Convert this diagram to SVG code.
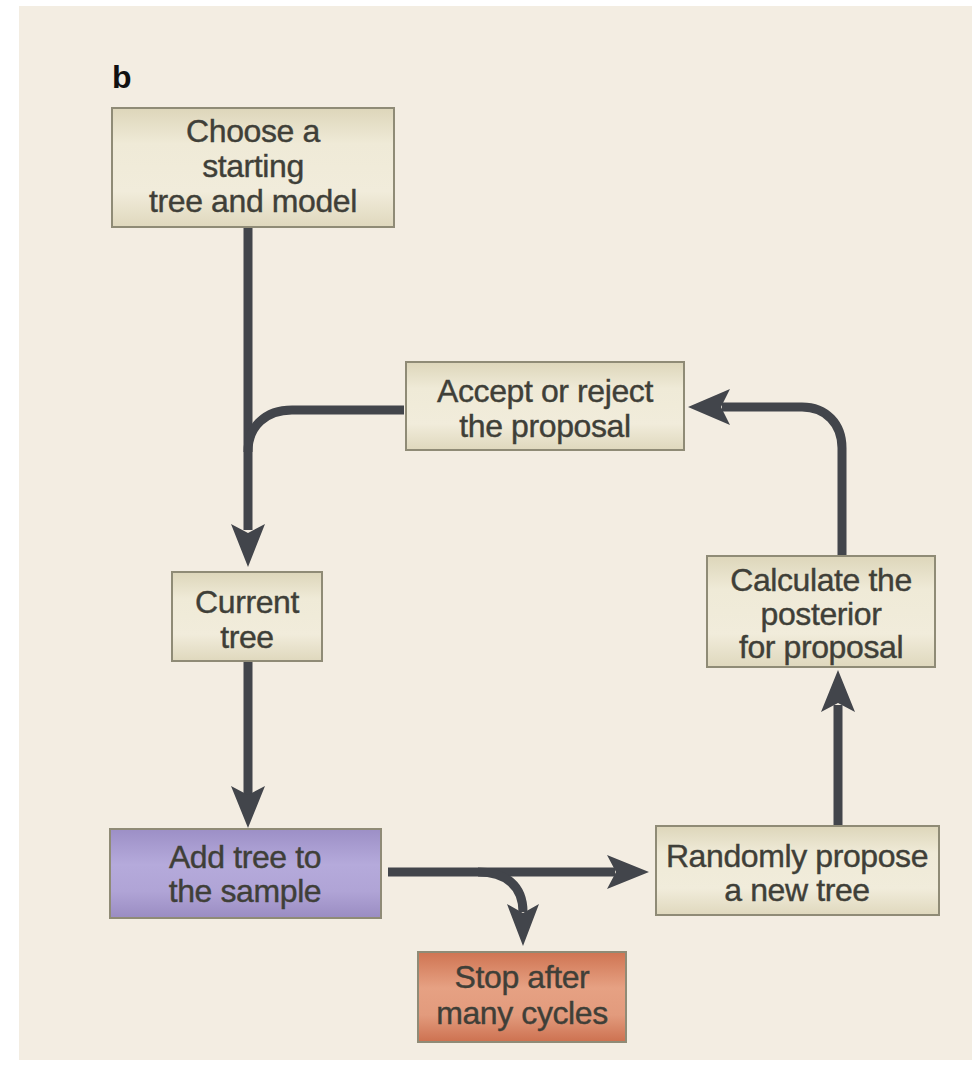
<svg xmlns="http://www.w3.org/2000/svg" width="972" height="1069" viewBox="0 0 972 1069">
  <style>
    .box { stroke: #8f8b76; stroke-width: 2; }
    .lbl { font-family: "Liberation Sans", Arial, sans-serif; font-size: 32px; fill: #3f3f38; text-anchor: middle; letter-spacing: -0.4px; stroke: #3f3f38; stroke-width: 0.4; }
    .ln { fill: none; stroke: #42454b; stroke-width: 9; }
    .ah { fill: #42454b; }
  </style>
  <defs>
    <linearGradient id="gBeige" x1="0" y1="0" x2="0" y2="1">
      <stop offset="0" stop-color="#ddd6ba"/>
      <stop offset="0.3" stop-color="#efead7"/>
      <stop offset="0.7" stop-color="#f1ecdb"/>
      <stop offset="1" stop-color="#dfd8bd"/>
    </linearGradient>
    <linearGradient id="gPurple" x1="0" y1="0" x2="0" y2="1">
      <stop offset="0" stop-color="#9c8fc6"/>
      <stop offset="0.4" stop-color="#b5aadb"/>
      <stop offset="0.7" stop-color="#b0a4d6"/>
      <stop offset="1" stop-color="#9a8cc2"/>
    </linearGradient>
    <linearGradient id="gOrange" x1="0" y1="0" x2="0" y2="1">
      <stop offset="0" stop-color="#cf7452"/>
      <stop offset="0.4" stop-color="#e6a183"/>
      <stop offset="0.7" stop-color="#e29b7d"/>
      <stop offset="1" stop-color="#cd7150"/>
    </linearGradient>
  </defs>

  <rect x="0" y="0" width="972" height="1069" fill="#ffffff"/>
  <rect x="19" y="6" width="953" height="1054" fill="#f3ede2"/>
  <text x="112" y="88" font-family="Liberation Sans, Arial, sans-serif" font-size="32" font-weight="bold" fill="#111">b</text>

  <g id="connectors">
    <path class="ln" d="M248 228 V530"/>
    <path class="ah" d="M248 567 L231 524 L248 533 L265 524 Z"/>
    <path class="ln" d="M404 410 H292 C266 410 248 426 248 452"/>
    <path class="ln" d="M842 556 V448 C842 424 826 407 802 407 H722"/>
    <path class="ah" d="M688 407 L730 389 L721 407 L730 425 Z"/>
    <path class="ln" d="M248 661 V796"/>
    <path class="ah" d="M248 828 L231 786 L248 795 L265 786 Z"/>
    <path class="ln" d="M388 872 H615"/>
    <path class="ah" d="M649 872 L607 855 L616 872 L607 889 Z"/>
    <path class="ln" d="M478 872 C506 872 523 886 523 912"/>
    <path class="ah" d="M523 946 L507 904 L523 913 L539 904 Z"/>
    <path class="ln" d="M838 826 V705"/>
    <path class="ah" d="M838 670 L821 712 L838 703 L855 712 Z"/>
  </g>

  <g id="n-choose">
    <rect class="box" x="112" y="108" width="282" height="119" fill="url(#gBeige)"/>
    <text class="lbl" x="253" y="142">Choose a</text>
    <text class="lbl" x="253" y="177">starting</text>
    <text class="lbl" x="253" y="212">tree and model</text>
  </g>
  <g id="n-accept">
    <rect class="box" x="406" y="362" width="278" height="88" fill="url(#gBeige)"/>
    <text class="lbl" x="545" y="402">Accept or reject</text>
    <text class="lbl" x="545" y="437">the proposal</text>
  </g>
  <g id="n-current">
    <rect class="box" x="172" y="572" width="150" height="89" fill="url(#gBeige)"/>
    <text class="lbl" x="247" y="613">Current</text>
    <text class="lbl" x="247" y="648">tree</text>
  </g>
  <g id="n-calculate">
    <rect class="box" x="707" y="556" width="228" height="111" fill="url(#gBeige)"/>
    <text class="lbl" x="821" y="591">Calculate the</text>
    <text class="lbl" x="821" y="625">posterior</text>
    <text class="lbl" x="821" y="658">for proposal</text>
  </g>
  <g id="n-add">
    <rect class="box" x="110" y="829" width="271" height="89" fill="url(#gPurple)" stroke="#7c6f9f"/>
    <text class="lbl" x="245" y="868">Add tree to</text>
    <text class="lbl" x="245" y="902">the sample</text>
  </g>
  <g id="n-random">
    <rect class="box" x="656" y="826" width="283" height="89" fill="url(#gBeige)"/>
    <text class="lbl" x="797" y="867">Randomly propose</text>
    <text class="lbl" x="797" y="901">a new tree</text>
  </g>
  <g id="n-stop">
    <rect class="box" x="418" y="952" width="208" height="90" fill="url(#gOrange)" stroke="#a8654a"/>
    <text class="lbl" x="522" y="988" font-size="31">Stop after</text>
    <text class="lbl" x="522" y="1024" font-size="31">many cycles</text>
  </g>
</svg>
